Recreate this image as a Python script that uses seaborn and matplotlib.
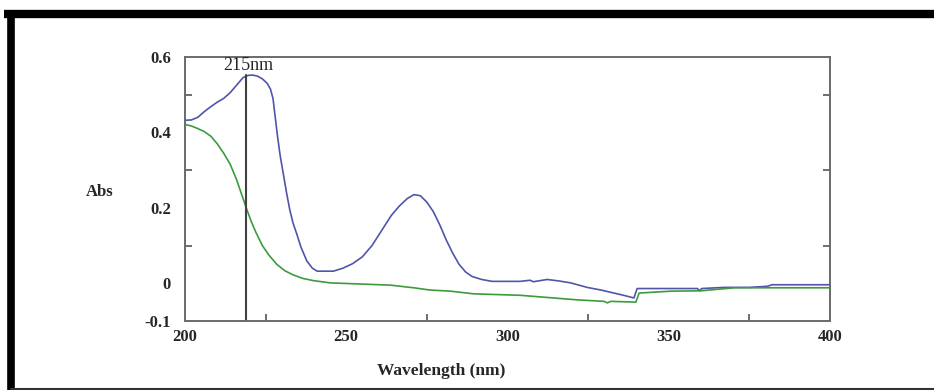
import matplotlib
matplotlib.use('Agg')
import matplotlib.pyplot as plt
import seaborn as sns
from matplotlib.lines import Line2D

# --- data ---
wl_sample = [200, 202, 204, 206, 208, 210, 212, 214, 216, 218, 219.5, 221, 222.5, 224, 225.5,
             226.5, 227.3, 228, 228.7, 229.5, 230.5, 231.5, 232.5, 233.5, 234.7, 236, 237.8,
             239.5, 241, 246, 249, 252, 255, 258, 261, 264, 266.5, 269, 271, 273, 275, 277,
             279, 281, 283, 285, 287, 289, 292, 295.2, 304, 307, 308, 312.3, 316, 319.6,
             324.7, 329, 333, 336, 339.2, 340.2, 350, 358.9, 359.5, 360.2, 367.2, 375,
             380.6, 382, 385.8, 400]
abs_sample = [0.432, 0.433, 0.44, 0.455, 0.468, 0.48, 0.49, 0.505, 0.525, 0.545, 0.551, 0.552,
              0.549, 0.542, 0.53, 0.515, 0.49, 0.44, 0.39, 0.34, 0.29, 0.24, 0.195, 0.16,
              0.13, 0.095, 0.059, 0.04, 0.032, 0.032, 0.04, 0.052, 0.07, 0.1, 0.14, 0.18,
              0.205, 0.225, 0.235, 0.232, 0.215, 0.19, 0.155, 0.115, 0.08, 0.05, 0.03, 0.018,
              0.01, 0.005, 0.005, 0.008, 0.004, 0.01, 0.006, 0.001, -0.011, -0.018, -0.026,
              -0.032, -0.039, -0.014, -0.014, -0.014, -0.02, -0.014, -0.011, -0.011, -0.008,
              -0.004, -0.004, -0.004]

wl_blank = [200, 202, 204, 206, 208, 210, 212, 214, 216, 218, 219, 220.5, 222, 224, 226,
            228.5, 231, 233.6, 236.5, 239.8, 245, 263.7, 270.9, 276, 282.3, 289.5, 304,
            314.3, 321.6, 329.9, 331, 332, 339.8, 340.8, 350.6, 360, 370.3, 400]
abs_blank = [0.421, 0.417, 0.41, 0.402, 0.39, 0.37, 0.345, 0.316, 0.275, 0.225, 0.2, 0.165,
             0.135, 0.1, 0.075, 0.05, 0.033, 0.022, 0.013, 0.007, 0.001, -0.005, -0.012,
             -0.018, -0.021, -0.028, -0.032, -0.039, -0.044, -0.048, -0.052, -0.048, -0.05,
             -0.026, -0.021, -0.02, -0.012, -0.012]

peak_wl = 219
peak_abs = 0.552
peak_label = '215nm'

x_ticks = [200, 250, 300, 350, 400]
y_ticks = [-0.1, 0, 0.2, 0.4, 0.6]
y_tick_labels = ['-0.1', '0', '0.2', '0.4', '0.6']

sns.set_style('white')
plt.rcParams['font.family'] = ['Liberation Serif', 'DejaVu Serif']

fig = plt.figure(figsize=(9.34, 3.9), dpi=100)
ax = fig.add_axes([0.198, 0.177, 0.6907, 0.677])

sns.lineplot(x=wl_sample, y=abs_sample, color='#5055aa', linewidth=1.2, sort=False, ax=ax)
sns.lineplot(x=wl_blank, y=abs_blank, color='#3d9b3d', linewidth=1.2, sort=False, ax=ax)

ax.plot([peak_wl, peak_wl], [-0.1, peak_abs], color='#404040', linewidth=1.5)
ax.text(peak_wl + 0.5, peak_abs + 0.004, peak_label, ha='center', va='bottom', fontsize=13)

ax.set_xlim(200, 400)
ax.set_ylim(-0.1, 0.6)
ax.set_xticks(x_ticks)
ax.set_yticks(y_ticks)
ax.set_yticklabels(y_tick_labels)
ax.set_xticks([225, 275, 325, 375], minor=True)
ax.set_yticks([0.1, 0.3, 0.5], minor=True)
ax.tick_params(which='major', length=0, labelsize=12)
ax.tick_params(axis='x', which='major', pad=6)
ax.tick_params(axis='y', which='major', pad=10)
ax.tick_params(which='minor', length=5, direction='in', width=1.2, color='#555555',
               left=True, right=True, bottom=True, top=False)
for lab in ax.get_xticklabels() + ax.get_yticklabels():
    lab.set_fontweight('bold')

for sp in ax.spines.values():
    sp.set_color('#6a6a6a')
    sp.set_linewidth(1.4)

ax.set_xlabel('')
ax.set_ylabel('')
fig.text(100 / 934, 1 - 192 / 390, 'Abs', fontsize=12, fontweight='bold', ha='center', va='center')
fig.text(441 / 934, 1 - 371 / 390, 'Wavelength (nm)', fontsize=12.5, fontweight='bold',
         ha='center', va='center')

# outer frame of the screenshot
fig.add_artist(Line2D([4 / 934, 1], [1 - 14 / 390, 1 - 14 / 390], color='black', linewidth=6,
                      transform=fig.transFigure, solid_capstyle='butt'))
fig.add_artist(Line2D([11 / 934, 11 / 934], [1 - 10 / 390, 0], color='black', linewidth=5.5,
                      transform=fig.transFigure, solid_capstyle='butt'))
fig.add_artist(Line2D([11 / 934, 1], [1 - 388.5 / 390, 1 - 388.5 / 390], color='#333333',
                      linewidth=1.5, transform=fig.transFigure))

fig.savefig('out.png', dpi=100)
